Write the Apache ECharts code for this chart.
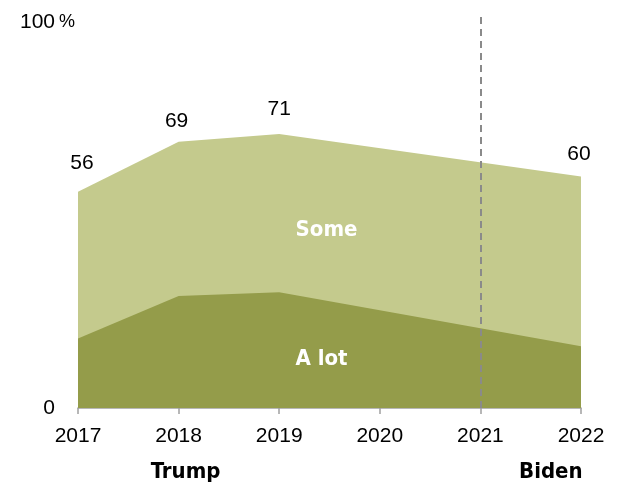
<!DOCTYPE html>
<html>
<head>
<meta charset="utf-8">
<script src="https://cdn.jsdelivr.net/npm/echarts@6/dist/echarts.min.js"></script>
<style>
  html, body { margin: 0; padding: 0; background: #fff; }
  #chart { width: 619px; height: 487px; }
</style>
</head>
<body>
<div id="chart"></div>
<script>
// Survey years (no readings in 2020 and 2021)
const years = [2017, 2018, 2019, 2022];
// Share answering "A lot"
const aLot = [18, 29, 30, 16];
// Share answering "Some"
const some = [38, 40, 41, 44];
// Year axis tick labels
const yearTicks = [2017, 2018, 2019, 2020, 2021, 2022];
// Administration change marker
const changeYear = 2021;

const FONT = '"Liberation Sans", Arial, sans-serif';
const COND = '"DejaVu Sans Condensed", "Liberation Sans Narrow", "Liberation Sans", sans-serif';

// Small nudges for the total labels so they clear the slope of the band edge
const labelNudge = { 2017: [4, -9], 2018: [-2, 0], 2019: [0, -5], 2022: [-2, -2] };

const chart = echarts.init(document.getElementById('chart'));

// The "Some" band is drawn as the combined total, with "A lot" layered on top
const lotData = years.map((y, i) => [y, aLot[i]]);
const totalData = years.map((y, i) => ({
  value: [y, aLot[i] + some[i]],
  label: { offset: labelNudge[y] || [0, 0] }
}));

// Plot top sits a little above 100 so the divider can rise past the axis top
const yMax = 102.6;

chart.setOption({
  animation: false,
  grid: { left: 78, right: 38, top: 12, bottom: 79 },
  xAxis: {
    type: 'value',
    min: 2017, max: 2022, interval: 1,
    axisLine: { show: true, lineStyle: { color: '#a0a0a0', width: 1.5 } },
    axisTick: { show: true, length: 6, lineStyle: { color: '#a0a0a0', width: 1.5 } },
    splitLine: { show: false },
    axisLabel: {
      margin: 18, color: '#000', fontSize: 21, fontFamily: FONT,
      formatter: v => yearTicks.includes(v) ? String(v) : ''
    }
  },
  yAxis: {
    type: 'value', min: 0, max: yMax, interval: 100,
    axisLine: { show: false }, axisTick: { show: false },
    splitLine: { show: false },
    axisLabel: {
      margin: 23, color: '#000', fontSize: 21, fontFamily: FONT,
      showMaxLabel: false,
      formatter: v => (v === 0 || v === 100) ? String(v) : ''
    }
  },
  series: [
    {
      name: 'Some', type: 'line',
      data: totalData,
      symbol: 'circle', symbolSize: 1, showSymbol: true,
      itemStyle: { color: 'rgba(0,0,0,0)' },
      lineStyle: { width: 0 },
      areaStyle: { color: '#c4ca8d', opacity: 1 },
      label: {
        show: true, position: 'top', distance: 9,
        color: '#000', fontSize: 21, fontFamily: FONT,
        formatter: p => String(p.value[1])
      },
      z: 2
    },
    {
      name: 'A lot', type: 'line',
      data: lotData,
      symbol: 'none', lineStyle: { width: 0 },
      areaStyle: { color: '#949c4a', opacity: 1 },
      z: 3
    },
    {
      name: 'divider', type: 'line', data: [],
      markLine: {
        silent: true, symbol: ['none', 'none'],
        label: { show: false },
        lineStyle: { color: '#8a8a8a', type: [7, 5], width: 2 },
        data: [{ xAxis: changeYear }]
      },
      z: 4
    }
  ]
});

// Category names inside the bands and administration labels under the axis
const someLbl = chart.convertToPixel({ gridIndex: 0 }, [2019.47, 46.1]);
const lotLbl = chart.convertToPixel({ gridIndex: 0 }, [2019.42, 12.5]);
const trumpPos = chart.convertToPixel({ gridIndex: 0 }, [2018.07, 0]);
const bidenPos = chart.convertToPixel({ gridIndex: 0 }, [2021.7, 0]);
const topPos = chart.convertToPixel({ gridIndex: 0 }, [2017, 100]);

const boldFont = 'bold 22px ' + COND;
chart.setOption({
  graphic: [
    { type: 'text', x: someLbl[0], y: someLbl[1], z: 10,
      style: { text: 'Some', fill: '#fff', font: boldFont, align: 'center', verticalAlign: 'middle' } },
    { type: 'text', x: lotLbl[0], y: lotLbl[1], z: 10,
      style: { text: 'A lot', fill: '#fff', font: boldFont, align: 'center', verticalAlign: 'middle' } },
    { type: 'text', x: trumpPos[0], y: trumpPos[1] + 64, z: 10,
      style: { text: 'Trump', fill: '#000', font: boldFont, align: 'center', verticalAlign: 'middle' } },
    { type: 'text', x: bidenPos[0], y: bidenPos[1] + 64, z: 10,
      style: { text: 'Biden', fill: '#000', font: boldFont, align: 'center', verticalAlign: 'middle' } },
    { type: 'text', x: topPos[0] - 19, y: topPos[1], z: 10,
      style: { text: '%', fill: '#000', font: '18px ' + FONT, align: 'left', verticalAlign: 'middle' } }
  ]
});
</script>
</body>
</html>
